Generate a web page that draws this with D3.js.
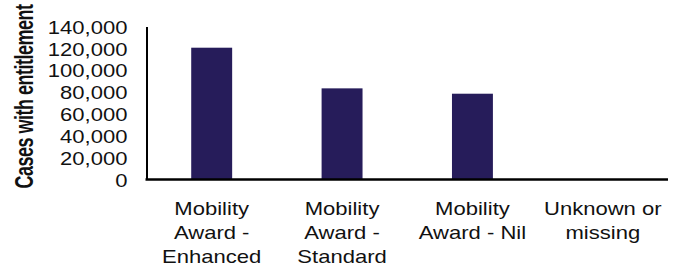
<!DOCTYPE html>
<html>
<head>
<meta charset="utf-8">
<script src="https://cdn.jsdelivr.net/npm/d3@7"></script>
<style>
  html, body { margin: 0; padding: 0; background: #fff; }
  svg { display: block; }
  text { font-family: "Liberation Sans", Arial, sans-serif; fill: #111; }
</style>
</head>
<body>
<svg id="chart" width="681" height="271"></svg>
<script>
const categories = [
  ["Mobility", "Award -", "Enhanced"],
  ["Mobility", "Award -", "Standard"],
  ["Mobility", "Award - Nil"],
  ["Unknown or", "missing"]
];
const categoryKeys = ["Mobility Award - Enhanced", "Mobility Award - Standard", "Mobility Award - Nil", "Unknown or missing"];
const values = [120600, 83400, 78500, 0];
const yTicks = [0, 20000, 40000, 60000, 80000, 100000, 120000, 140000];
const yTitle = "Cases with entitlement";

(function () {
const svg = d3.select("#chart");
const mLeft = 146.5, mRight = 668, mTop = 26.5, mBottom = 179.5;
const stretch = 1.16;

const x = d3.scaleBand().domain(categoryKeys).range([mLeft, mRight])
  .paddingInner(0.686).paddingOuter(0.343);
const y = d3.scaleLinear().domain([0, 140000]).range([mBottom, mTop]);

// bars
svg.append("g").selectAll("rect").data(values).join("rect")
  .attr("x", (d, i) => x(categoryKeys[i]))
  .attr("width", x.bandwidth())
  .attr("y", d => y(d))
  .attr("height", d => y(0) - y(d))
  .attr("fill", "#261c5a");

// y axis
const yAxis = d3.axisLeft(y).tickValues(yTicks).tickSize(0).tickPadding(19)
  .tickFormat(d3.format(","));
const gy = svg.append("g").attr("transform", `translate(${mLeft},0)`).call(yAxis);
gy.select(".domain").attr("stroke", "#000").attr("stroke-width", 2);
gy.selectAll(".tick text")
  .attr("font-size", 19)
  .attr("font-family", "Liberation Sans, Arial, sans-serif")
  .attr("fill", "#111")
  .attr("dy", "0.35em")
  .each(function () {
    const t = d3.select(this);
    const xx = +t.attr("x");
    t.attr("x", xx / stretch).attr("transform", `scale(${stretch},1)`);
  });

// x axis line
svg.append("line")
  .attr("x1", mLeft - 1).attr("x2", mRight)
  .attr("y1", y(0)).attr("y2", y(0))
  .attr("stroke", "#000").attr("stroke-width", 2.5);

// category labels
const lab = svg.append("g");
categories.forEach((lines, i) => {
  const cx = x(categoryKeys[i]) + x.bandwidth() / 2;
  const g = lab.append("g").attr("transform", `translate(${cx},0) scale(${stretch},1)`);
  g.selectAll("text").data(lines).join("text")
    .attr("x", 0)
    .attr("y", (d, j) => 215 + j * 24)
    .attr("text-anchor", "middle")
    .attr("font-size", 19)
    .text(d => d);
});

// y title
svg.append("text")
  .attr("transform", "translate(33,96.5) rotate(-90) scale(1,1.4)")
  .attr("text-anchor", "middle")
  .attr("font-size", 18)
  .attr("letter-spacing", "-0.5px")
  .attr("font-weight", "bold")
  .text(yTitle);
})();
</script>
</body>
</html>
